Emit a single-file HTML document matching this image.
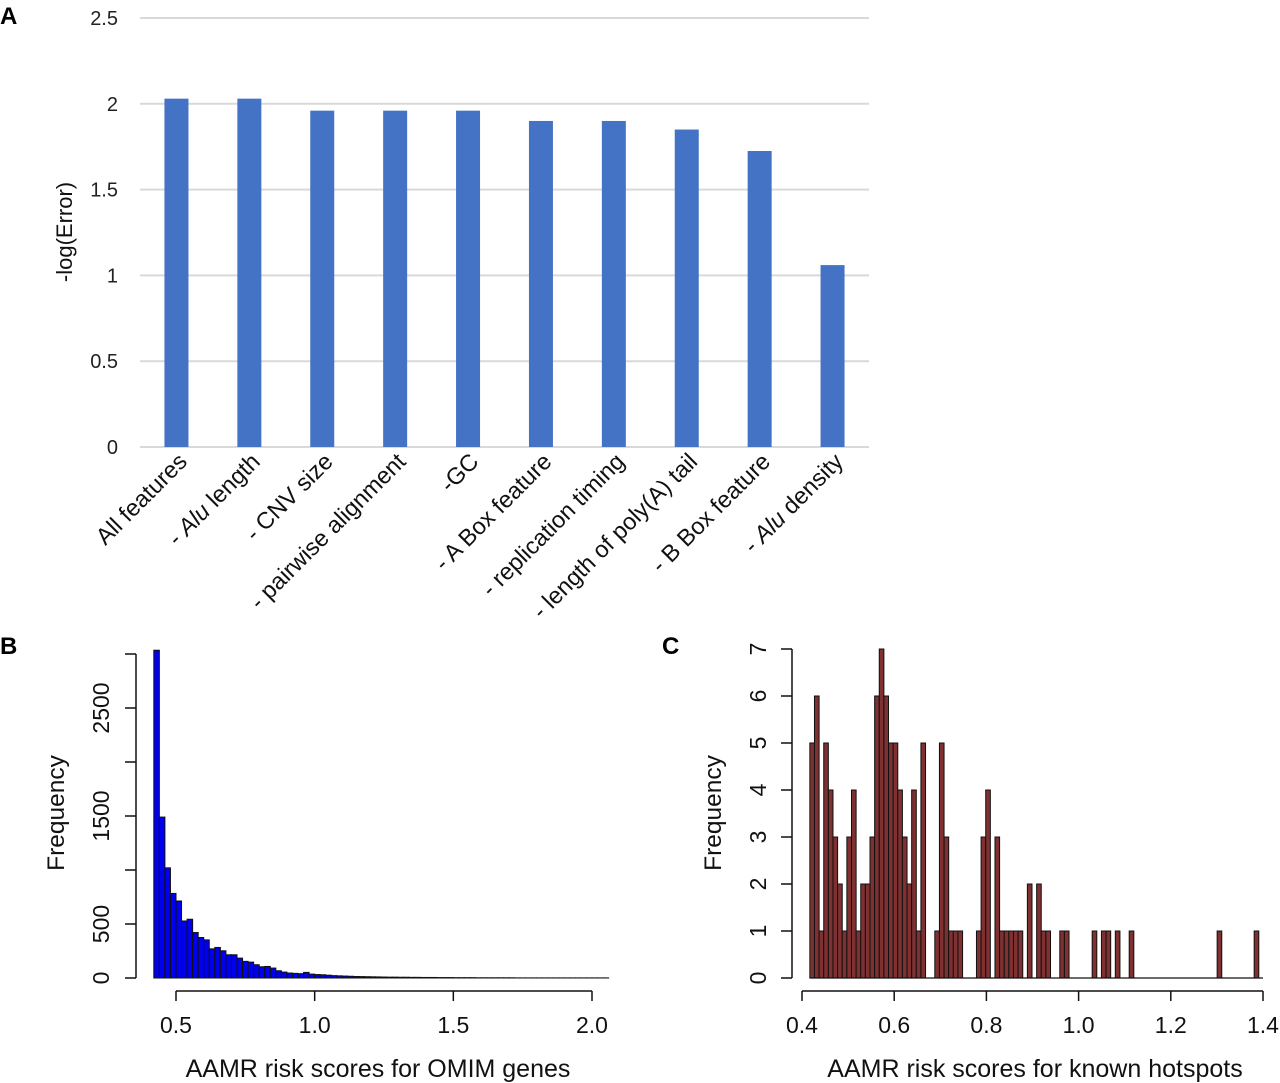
<!DOCTYPE html>
<html><head><meta charset="utf-8"><style>
body{margin:0;background:#fff;}
svg{display:block;}
text{font-family:"Liberation Sans",sans-serif;}
</style></head><body>
<svg id="fig" width="1280" height="1083" viewBox="0 0 1280 1083" xmlns="http://www.w3.org/2000/svg">
<g id="gA"></g>
<g id="gB"></g>
<g id="gC"></g>
</svg>
<script>
// Panel A data
const catsA = ["All features","- |Alu| length","- CNV size","- pairwise alignment","-GC","- A Box feature","- replication timing","- length of poly(A) tail","- B Box feature","- |Alu| density"];
const valsA = [2.03,2.03,1.96,1.96,1.96,1.90,1.90,1.85,1.725,1.06];
const ticksA = [0,0.5,1,1.5,2,2.5];
const tickLabelsA = ["0","0.5","1","1.5","2","2.5"];
// Panel B data (bins of 0.02 starting at 0.42)
const binStartB = 0.42, binWidthB = 0.02;
const countsB = [3035,1490,1020,783,713,528,544,421,375,353,270,283,252,215,215,184,154,147,123,104,107,92,67,55,46,43,40,52,36,32,30,26,22,20,18,16,14,13,12,11,10,9,8,8,7,7,6,6,5,5,5,4,4,4,3,3,3,3,2,2,2,2,2,2,2,1,1,1,1,1,1,1,1,1,1,1,1,1,1,1,1,1];
const ticksBy = [0,500,1000,1500,2000,2500,3000];
const tickLabelsBy = ["0","500","","1500","","2500",""];
const ticksBx = [0.5,1.0,1.5,2.0];
const tickLabelsBx = ["0.5","1.0","1.5","2.0"];
// Panel C data (bins of ~0.01 starting at 0.417)
const binStartC = 0.417, binWidthC = 0.01004;
const countsC = [5,6,1,5,4,3,2,1,3,4,1,2,2,3,6,7,6,5,5,4,3,2,4,1,5,0,0,1,5,3,1,1,1,0,0,0,1,3,4,0,3,1,1,1,1,1,0,2,0,2,1,1,0,0,1,1,0,0,0,0,0,1,0,1,1,0,1,0,0,1,0,0,0,0,0,0,0,0,0,0,0,0,0,0,0,0,0,0,1,0,0,0,0,0,0,0,1];
const ticksCy = [0,1,2,3,4,5,6,7];
const tickLabelsCy = ["0","1","2","3","4","5","6","7"];
const ticksCx = [0.4,0.6,0.8,1.0,1.2,1.4];
const tickLabelsCx = ["0.4","0.6","0.8","1.0","1.2","1.4"];

const NS="http://www.w3.org/2000/svg";
function mk(parent,tag,attrs,txt){const e=document.createElementNS(NS,tag);for(const k in attrs)e.setAttribute(k,attrs[k]);if(txt!==undefined)e.textContent=txt;parent.appendChild(e);return e;}

// ---------- Panel A ----------
const gA=document.getElementById('gA');
const aX0=140,aX1=869,aY0=447,aY1=18;
const ayScale=v=>aY0-(v/2.5)*(aY0-aY1);
const step=(aX1-aX0)/catsA.length;
const axScale=i=>aX0+step*(i+0.5);
let t=mk(gA,'text',{x:0,y:24,'font-size':24,'font-weight':'bold'},'A');


ticksA.forEach((v,i)=>{
  const l=mk(gA,'line',{x1:aX0,x2:aX1,y1:ayScale(v),y2:ayScale(v),stroke:'#d9d9d9','stroke-width':2});
  
  
  const tt=mk(gA,'text',{x:118,y:ayScale(v)+7,'font-size':20,'text-anchor':'end',fill:'#222'},tickLabelsA[i]);
  
  
});
valsA.forEach((v,i)=>{
  const cx=axScale(i);
  const r=mk(gA,'rect',{x:cx-12,y:ayScale(v),width:24,height:aY0-ayScale(v),fill:'#4472c4'});
  
  
  const lab=mk(gA,'text',{transform:`translate(${cx+12},${463}) rotate(-45)`,'font-size':23.5,'text-anchor':'end',fill:'#111'});
  
  
  catsA[i].split('|').forEach((p,j)=>{const s=mk(lab,'tspan',{},p);if(j%2===1)s.setAttribute('font-style','italic');});
});
t=mk(gA,'text',{transform:'translate(72,232) rotate(-90)','font-size':22,'text-anchor':'middle',fill:'#111'},'-log(Error)');



// ---------- Panel B ----------
const gB=document.getElementById('gB');
const bxScale=v=>176+(v-0.5)*(592-176)/1.5;
const byScale=v=>978-v*(978-654)/3000;
t=mk(gB,'text',{x:0,y:654,'font-size':24,'font-weight':'bold'},'B');


countsB.forEach((c,i)=>{
  const x0=bxScale(binStartB+i*binWidthB),x1=bxScale(binStartB+(i+1)*binWidthB);
  const r=mk(gB,'rect',{x:x0,y:byScale(c),width:x1-x0,height:978-byScale(c),fill:'#0000ee',stroke:'#111','stroke-width':1});
  
  
});
mk(gB,'line',{x1:136,x2:136,y1:byScale(0),y2:byScale(3000),stroke:'#111','stroke-width':1.5});
ticksBy.forEach((v,i)=>{
  mk(gB,'line',{x1:125,x2:136,y1:byScale(v),y2:byScale(v),stroke:'#111','stroke-width':1.5});
  if(tickLabelsBy[i]){const tt=mk(gB,'text',{transform:`translate(109,${byScale(v)}) rotate(-90)`,'font-size':23,'text-anchor':'middle',fill:'#111'},tickLabelsBy[i]);
  
  }
});
mk(gB,'line',{x1:bxScale(0.5),x2:bxScale(2.0),y1:991,y2:991,stroke:'#111','stroke-width':1.5});
ticksBx.forEach((v,i)=>{
  mk(gB,'line',{x1:bxScale(v),x2:bxScale(v),y1:991,y2:1001,stroke:'#111','stroke-width':1.5});
  const tt=mk(gB,'text',{x:bxScale(v),y:1033,'font-size':23,'text-anchor':'middle',fill:'#111'},tickLabelsBx[i]);
  
  
});
t=mk(gB,'text',{transform:'translate(64,813) rotate(-90)','font-size':24.5,'text-anchor':'middle',fill:'#111'},'Frequency');


t=mk(gB,'text',{x:378,y:1077,'font-size':25,'text-anchor':'middle',fill:'#111'},'AAMR risk scores for OMIM genes');



// ---------- Panel C ----------
const gC=document.getElementById('gC');
const cxScale=v=>802+(v-0.4)*461;
const cyScale=v=>978-v*47;
t=mk(gC,'text',{x:662,y:654,'font-size':24,'font-weight':'bold'},'C');


countsC.forEach((c,i)=>{
  if(c<=0)return;
  const x0=cxScale(binStartC+i*binWidthC),x1=cxScale(binStartC+(i+1)*binWidthC);
  const r=mk(gC,'rect',{x:x0,y:cyScale(c),width:x1-x0,height:978-cyScale(c),fill:'#7f3030',stroke:'#111','stroke-width':1});
  
  
});
mk(gC,'line',{x1:cxScale(binStartC),x2:1263,y1:978,y2:978,stroke:'#111','stroke-width':1.2});
mk(gC,'line',{x1:792,x2:792,y1:cyScale(0),y2:cyScale(7),stroke:'#111','stroke-width':1.5});
ticksCy.forEach((v,i)=>{
  mk(gC,'line',{x1:781,x2:792,y1:cyScale(v),y2:cyScale(v),stroke:'#111','stroke-width':1.5});
  const tt=mk(gC,'text',{transform:`translate(766,${cyScale(v)}) rotate(-90)`,'font-size':23,'text-anchor':'middle',fill:'#111'},tickLabelsCy[i]);
  
  
});
mk(gC,'line',{x1:cxScale(0.4),x2:cxScale(1.4),y1:991,y2:991,stroke:'#111','stroke-width':1.5});
ticksCx.forEach((v,i)=>{
  mk(gC,'line',{x1:cxScale(v),x2:cxScale(v),y1:991,y2:1001,stroke:'#111','stroke-width':1.5});
  const tt=mk(gC,'text',{x:cxScale(v),y:1033,'font-size':23,'text-anchor':'middle',fill:'#111'},tickLabelsCx[i]);
  
  
});
t=mk(gC,'text',{transform:'translate(721,813) rotate(-90)','font-size':24.5,'text-anchor':'middle',fill:'#111'},'Frequency');


t=mk(gC,'text',{x:1035,y:1077,'font-size':25,'text-anchor':'middle',fill:'#111'},'AAMR risk scores for known hotspots');


</script>
</body></html>
